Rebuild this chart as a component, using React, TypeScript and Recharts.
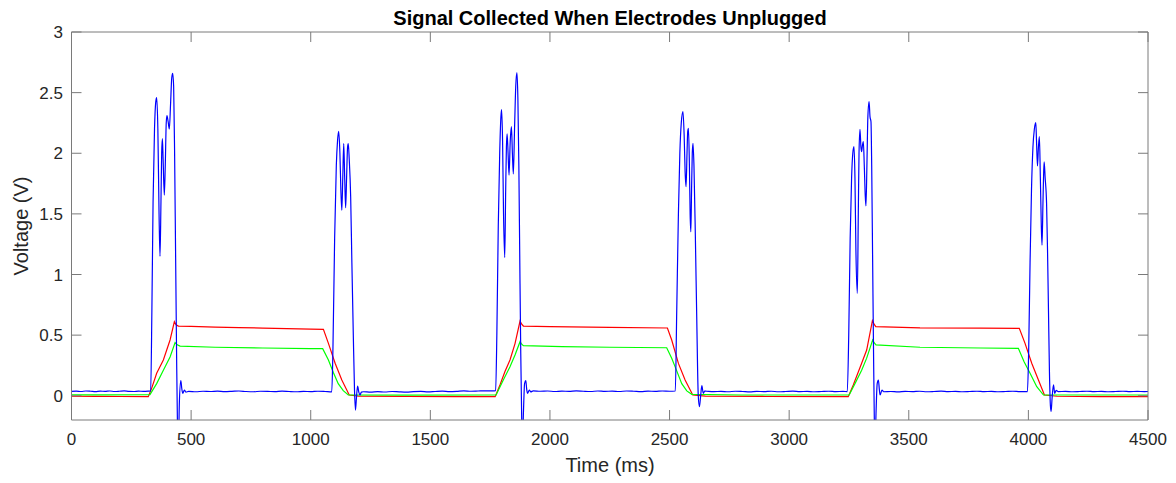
import React from 'react';
import { LineChart, Line, XAxis, YAxis } from 'recharts';

const CHART_W = 1176;
const CHART_H = 483;
const AXIS_COLOR = '#7a7a7a';
const TEXT_COLOR = '#262626';
const FONT = '"Liberation Sans", Arial, Helvetica, sans-serif';
const TICK_LEN = 10;

const chartTitle = 'Signal Collected When Electrodes Unplugged';
const xLabel = 'Time (ms)';
const yLabel = 'Voltage (V)';

const timeTicks = [0, 500, 1000, 1500, 2000, 2500, 3000, 3500, 4000, 4500];
const voltTicks = [0, 0.5, 1, 1.5, 2, 2.5, 3];
const timeDomain: [number, number] = [0, 4500];
const voltDomain: [number, number] = [-0.2, 3];

// Channel 1 (blue): [time ms, volts]
const blueSignal: [number, number][] = [
  [0, 0.036], [20, 0.038], [40, 0.035], [60, 0.039], [80, 0.037], [100, 0.034], [120, 0.038],
  [140, 0.036], [160, 0.039], [180, 0.035], [200, 0.037], [220, 0.04], [240, 0.036], [260, 0.035],
  [280, 0.038], [300, 0.036], [320, 0.038], [331, 0.04],
  [336, 0.7], [341, 1.6], [347, 2.2], [352, 2.42], [356, 2.46], [361, 2.2], [366, 1.5], [370, 1.15],
  [374, 1.6], [377, 2.0], [380, 2.12], [383, 1.95], [388, 1.655], [392, 1.9], [396, 2.25], [399, 2.31],
  [404, 2.26], [409, 2.2], [414, 2.4], [419, 2.62], [423, 2.66], [427, 2.55], [431, 2.0], [435, 1.2],
  [439, 0.4], [443, -0.25], [447, -0.4], [451, -0.05], [457, 0.124], [461, 0.06], [465, 0.02],
  [472, 0.047], [478, 0.03], [490, 0.036],
  [520, 0.033], [550, 0.037], [580, 0.035], [610, 0.038], [640, 0.034], [670, 0.036], [700, 0.039],
  [730, 0.035], [760, 0.033], [790, 0.037], [820, 0.036], [850, 0.034], [880, 0.038], [910, 0.035],
  [940, 0.033], [970, 0.036], [1000, 0.034], [1030, 0.037], [1060, 0.035], [1088, 0.032],
  [1093, 0.4], [1100, 1.3], [1107, 1.9], [1112, 2.1], [1117, 2.18], [1122, 2.0], [1126, 1.7],
  [1130, 1.53], [1134, 1.8], [1138, 2.08], [1142, 1.8], [1146, 1.55], [1150, 1.8], [1154, 2.05],
  [1157, 2.08], [1161, 1.95], [1167, 1.64], [1172, 1.1], [1178, 0.5], [1183, 0.05], [1187, -0.118],
  [1191, -0.02], [1196, 0.08], [1201, 0.03], [1206, 0.006], [1212, 0.03], [1220, 0.033],
  [1250, 0.03], [1280, 0.034], [1310, 0.031], [1340, 0.035], [1370, 0.032], [1400, 0.03], [1430, 0.034],
  [1460, 0.036], [1490, 0.032], [1520, 0.035], [1550, 0.038], [1580, 0.034], [1610, 0.036],
  [1640, 0.04], [1670, 0.037], [1700, 0.039], [1730, 0.041], [1760, 0.04], [1773, 0.042],
  [1778, 0.5], [1784, 1.4], [1790, 2.0], [1795, 2.3], [1798, 2.36], [1802, 2.1], [1806, 1.5],
  [1811, 1.14], [1815, 1.7], [1818, 2.05], [1821, 2.16], [1825, 2.0], [1829, 1.82], [1834, 2.1],
  [1839, 2.22], [1843, 2.0], [1847, 1.83], [1852, 2.2], [1857, 2.55], [1862, 2.665], [1866, 2.45],
  [1870, 1.9], [1874, 1.1], [1878, 0.35], [1882, -0.2], [1885, -0.4], [1889, -0.15], [1894, 0.1],
  [1899, 0.124], [1903, 0.05], [1906, 0.02], [1914, 0.047], [1920, 0.032], [1930, 0.04],
  [1960, 0.037], [1990, 0.039], [2020, 0.035], [2050, 0.038], [2080, 0.036], [2110, 0.04],
  [2140, 0.037], [2170, 0.035], [2200, 0.039], [2230, 0.036], [2260, 0.038], [2290, 0.035],
  [2320, 0.039], [2350, 0.037], [2380, 0.034], [2410, 0.038], [2440, 0.036], [2470, 0.039],
  [2500, 0.037], [2524, 0.039],
  [2530, 0.7], [2537, 1.5], [2543, 2.0], [2549, 2.25], [2556, 2.343], [2561, 2.15], [2565, 1.85],
  [2569, 1.724], [2573, 2.0], [2576, 2.18], [2579, 2.205], [2583, 1.9], [2586, 1.5], [2589, 1.353],
  [2592, 1.7], [2595, 2.0], [2598, 2.082], [2602, 1.9], [2608, 1.3], [2614, 0.6], [2620, 0.0],
  [2625, -0.09], [2630, 0.0], [2635, 0.083], [2641, 0.02], [2647, 0.038], [2655, 0.037],
  [2685, 0.034], [2715, 0.036], [2745, 0.033], [2775, 0.037], [2805, 0.035], [2835, 0.032],
  [2865, 0.036], [2895, 0.034], [2925, 0.037], [2955, 0.033], [2985, 0.035], [3015, 0.038],
  [3045, 0.034], [3075, 0.036], [3105, 0.033], [3135, 0.035], [3165, 0.037], [3195, 0.034],
  [3225, 0.036], [3243, 0.034],
  [3249, 0.5], [3255, 1.3], [3261, 1.8], [3266, 2.0], [3271, 2.054], [3275, 1.8], [3279, 1.2],
  [3285, 0.845], [3289, 1.5], [3292, 2.0], [3296, 2.197], [3300, 2.05], [3303, 2.013], [3306, 2.06],
  [3310, 2.096], [3314, 1.9], [3318, 1.65], [3321, 1.565], [3325, 1.9], [3329, 2.3], [3334, 2.425],
  [3338, 2.3], [3342, 2.26], [3345, 1.9], [3349, 1.1], [3353, 0.3], [3356, -0.2], [3359, -0.45],
  [3363, -0.15], [3368, 0.1], [3373, 0.13], [3377, 0.05], [3380, 0.006], [3388, 0.047], [3395, 0.033],
  [3425, 0.035], [3455, 0.032], [3485, 0.036], [3515, 0.034], [3545, 0.037], [3575, 0.033],
  [3605, 0.035], [3635, 0.038], [3665, 0.034], [3695, 0.036], [3725, 0.033], [3755, 0.035],
  [3785, 0.037], [3815, 0.034], [3845, 0.036], [3875, 0.033], [3905, 0.035], [3935, 0.037],
  [3965, 0.034], [3996, 0.034],
  [4001, 0.35], [4007, 1.1], [4013, 1.7], [4019, 2.05], [4025, 2.2], [4031, 2.253], [4034, 2.1],
  [4038, 1.895], [4042, 2.05], [4046, 2.137], [4050, 1.8], [4054, 1.4], [4057, 1.243], [4061, 1.6],
  [4064, 1.85], [4066, 1.93], [4070, 1.8], [4076, 1.587], [4080, 1.2], [4084, 0.7], [4088, 0.2],
  [4092, -0.08], [4095, -0.13], [4099, -0.02], [4105, 0.089], [4110, 0.02], [4116, 0.045],
  [4125, 0.034], [4155, 0.036], [4185, 0.033], [4215, 0.035], [4245, 0.037], [4275, 0.034],
  [4305, 0.036], [4335, 0.033], [4365, 0.035], [4395, 0.037], [4425, 0.034], [4455, 0.036],
  [4485, 0.034], [4500, 0.035],
];

// Channel 2 (red): [time ms, volts]
const redSignal: [number, number][] = [
  [0, -0.004], [100, -0.005], [200, -0.006], [321, -0.008],
  [335, 0.061], [356, 0.185], [384, 0.295], [398, 0.377], [412, 0.46], [430, 0.611], [437, 0.585],
  [447, 0.575], [500, 0.572], [600, 0.566], [700, 0.562], [800, 0.558], [900, 0.553], [1000, 0.55],
  [1053, 0.548], [1074, 0.432], [1102, 0.268], [1130, 0.13], [1161, 0.006], [1200, -0.003],
  [1400, -0.006], [1600, -0.007], [1771, -0.008],
  [1791, 0.089], [1812, 0.2], [1833, 0.295], [1854, 0.43], [1875, 0.616], [1882, 0.59],
  [1889, 0.575], [2000, 0.57], [2250, 0.564], [2491, 0.559], [2509, 0.46], [2537, 0.267],
  [2565, 0.13], [2597, 0.006], [2650, -0.003], [2900, -0.006], [3247, -0.008],
  [3268, 0.089], [3303, 0.268], [3324, 0.377], [3348, 0.619], [3355, 0.59], [3362, 0.57],
  [3547, 0.559], [3800, 0.557], [3962, 0.556], [3986, 0.432], [4014, 0.268], [4042, 0.13],
  [4067, 0.006], [4120, -0.004], [4300, -0.007], [4500, -0.008],
];

// Channel 3 (green): [time ms, volts]
const greenSignal: [number, number][] = [
  [0, 0.008], [150, 0.008], [328, 0.01],
  [356, 0.1], [384, 0.21], [412, 0.32], [433, 0.438], [442, 0.42], [454, 0.41], [600, 0.4],
  [800, 0.394], [1000, 0.389], [1050, 0.388], [1074, 0.295], [1095, 0.19], [1115, 0.1],
  [1136, 0.042], [1157, 0.006], [1400, 0.005], [1775, 0.006],
  [1805, 0.13], [1833, 0.24], [1854, 0.336], [1875, 0.446], [1882, 0.425], [1889, 0.413],
  [2050, 0.405], [2251, 0.4], [2488, 0.396], [2509, 0.309], [2523, 0.24], [2551, 0.1],
  [2572, 0.04], [2593, 0.012], [2800, 0.006], [3251, 0.006],
  [3275, 0.1], [3303, 0.21], [3324, 0.31], [3349, 0.46], [3356, 0.435], [3363, 0.419],
  [3547, 0.4], [3800, 0.394], [3958, 0.391], [3982, 0.28], [4007, 0.185], [4035, 0.075],
  [4063, 0.006], [4300, 0.006], [4500, 0.006],
];

const toRows = (pairs: [number, number][]) => pairs.map(([t, v]) => ({ t, v }));

// MATLAB-style inward tick marks, drawn from the axis position handed to each tick
const BottomTick = (props: any) => {
  const { x, y, payload } = props;
  return (
    <g>
      <line x1={x} y1={y} x2={x} y2={y - TICK_LEN} stroke={AXIS_COLOR} strokeWidth={1} />
      <text x={x} y={y + 25} textAnchor="middle" fill={TEXT_COLOR} fontFamily={FONT} fontSize={17}>
        {payload.value}
      </text>
    </g>
  );
};

const TopTick = (props: any) => {
  const { x, y } = props;
  return <line x1={x} y1={y} x2={x} y2={y + TICK_LEN} stroke={AXIS_COLOR} strokeWidth={1} />;
};

const LeftTick = (props: any) => {
  const { x, y, payload } = props;
  return (
    <g>
      <line x1={x} y1={y} x2={x + TICK_LEN} y2={y} stroke={AXIS_COLOR} strokeWidth={1} />
      <text x={x - 8.5} y={y + 6} textAnchor="end" fill={TEXT_COLOR} fontFamily={FONT} fontSize={17}>
        {payload.value}
      </text>
    </g>
  );
};

const RightTick = (props: any) => {
  const { x, y } = props;
  return <line x1={x} y1={y} x2={x - TICK_LEN} y2={y} stroke={AXIS_COLOR} strokeWidth={1} />;
};

export default function App() {
  const axisLine = { stroke: AXIS_COLOR, strokeWidth: 1 };
  return (
    <div style={{ position: 'fixed', left: 0, top: 0, width: CHART_W, height: CHART_H, background: '#fff' }}>
      <LineChart
        width={CHART_W}
        height={CHART_H}
        margin={{ top: 31, right: 27, bottom: 62, left: 70.5 }}
      >
        <XAxis
          xAxisId="bottom"
          dataKey="t"
          type="number"
          domain={timeDomain}
          ticks={timeTicks}
          allowDataOverflow
          height={1}
          tickSize={0}
          tickMargin={0}
          tickLine={false}
          axisLine={axisLine}
          tick={<BottomTick />}
          interval={0}
        />
        <XAxis
          xAxisId="top"
          orientation="top"
          dataKey="t"
          type="number"
          domain={timeDomain}
          ticks={timeTicks}
          allowDataOverflow
          height={1}
          tickSize={0}
          tickMargin={0}
          tickLine={false}
          axisLine={axisLine}
          tick={<TopTick />}
          interval={0}
        />
        <YAxis
          yAxisId="left"
          type="number"
          domain={voltDomain}
          ticks={voltTicks}
          allowDataOverflow
          width={1}
          tickSize={0}
          tickMargin={0}
          tickLine={false}
          axisLine={axisLine}
          tick={<LeftTick />}
          interval={0}
        />
        <YAxis
          yAxisId="right"
          orientation="right"
          type="number"
          domain={voltDomain}
          ticks={voltTicks}
          allowDataOverflow
          width={1}
          tickSize={0}
          tickMargin={0}
          tickLine={false}
          axisLine={axisLine}
          tick={<RightTick />}
          interval={0}
        />
        <Line
          xAxisId="bottom"
          yAxisId="left"
          data={toRows(redSignal)}
          dataKey="v"
          type="linear"
          stroke="#ff0000"
          strokeWidth={1.2}
          dot={false}
          activeDot={false}
          isAnimationActive={false}
        />
        <Line
          xAxisId="bottom"
          yAxisId="left"
          data={toRows(greenSignal)}
          dataKey="v"
          type="linear"
          stroke="#00ff00"
          strokeWidth={1.2}
          dot={false}
          activeDot={false}
          isAnimationActive={false}
        />
        <Line
          xAxisId="bottom"
          yAxisId="left"
          data={toRows(blueSignal)}
          dataKey="v"
          type="monotone"
          stroke="#0000ff"
          strokeWidth={1.2}
          dot={false}
          activeDot={false}
          isAnimationActive={false}
        />
      </LineChart>
      <svg
        width={CHART_W}
        height={CHART_H}
        style={{ position: 'absolute', left: 0, top: 0, pointerEvents: 'none' }}
      >
        <text
          x={610}
          y={25}
          textAnchor="middle"
          fill="#000"
          fontFamily={FONT}
          fontSize={20}
          fontWeight="bold"
        >
          {chartTitle}
        </text>
        <text x={610} y={472} textAnchor="middle" fill={TEXT_COLOR} fontFamily={FONT} fontSize={20}>
          {xLabel}
        </text>
        <text
          x={28}
          y={226}
          textAnchor="middle"
          fill={TEXT_COLOR}
          fontFamily={FONT}
          fontSize={20}
          transform="rotate(-90 28 226)"
        >
          {yLabel}
        </text>
      </svg>
    </div>
  );
}
